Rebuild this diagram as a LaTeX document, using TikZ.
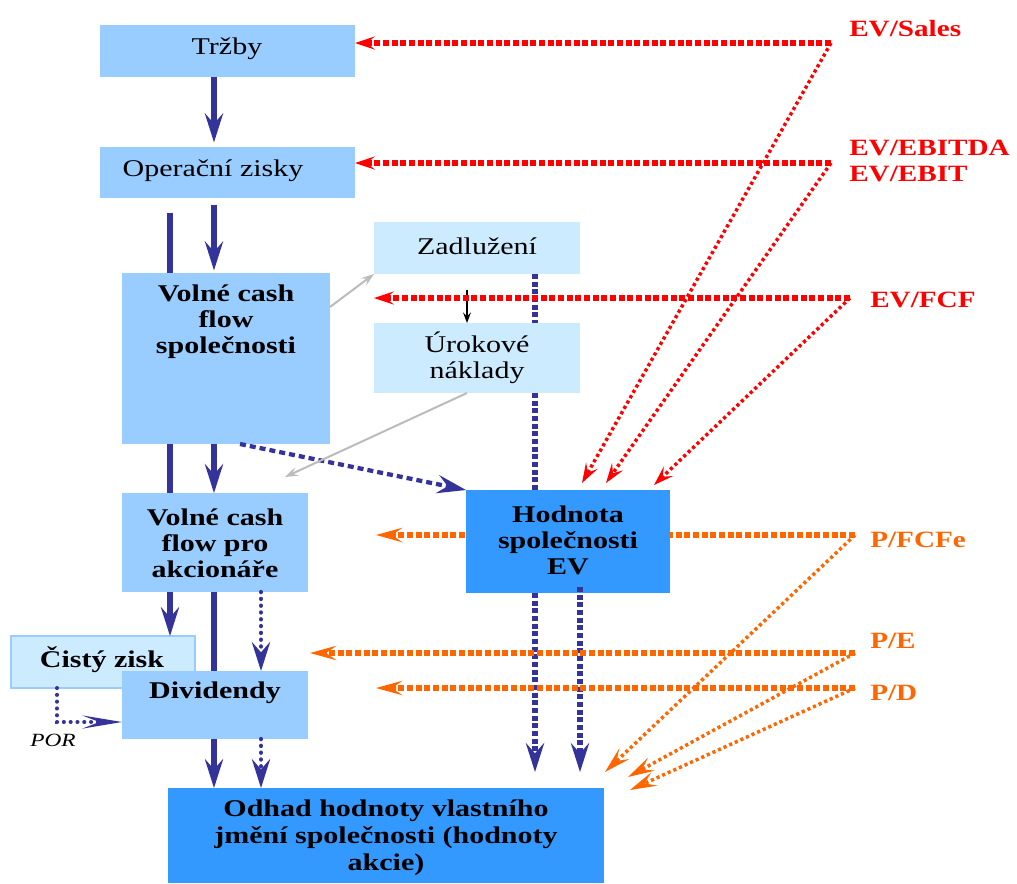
\documentclass[tikz,border=0pt]{standalone}
\usepackage{fontspec}
\setmainfont{Liberation Serif}[FakeStretch=1.25]
\usetikzlibrary{arrows.meta}
\definecolor{boxA}{HTML}{99CCFF}
\definecolor{boxB}{HTML}{CCEBFF}
\definecolor{boxC}{HTML}{3399FF}
\definecolor{navy}{HTML}{333399}
\definecolor{evred}{HTML}{FF0000}
\definecolor{porange}{HTML}{FF6600}
\definecolor{lgray}{HTML}{BBBBBB}
\tikzset{
  navytip/.tip={Stealth[length=22pt,width=14pt,inset=8pt,line width=0pt]},
  redtip/.tip={Stealth[length=15pt,width=10pt,inset=6pt,line width=0pt]},
  ortip/.tip={Stealth[length=20pt,width=11pt,inset=8pt,line width=0pt]},
  portip/.tip={Stealth[length=30pt,width=10pt,inset=13pt,line width=0pt]},
  graytip/.tip={Stealth[length=10pt,width=7pt,inset=4pt,line width=0pt]},
  box/.style 2 args={rectangle, minimum width=#1*0.75pt, minimum height=#2*0.75pt,
    inner sep=0pt, outer sep=0pt, anchor=north west, draw=none},
  txt/.style={font=\fontsize{18}{19.5}\selectfont, align=center, inner sep=0pt, text=black},
  btxt/.style={txt, font=\fontsize{18}{19.5}\selectfont\bfseries},
  lab/.style={font=\fontsize{17.5}{19}\selectfont\bfseries, inner sep=0pt, anchor=base west},
  solidB/.style={draw=navy, line width=4.5pt},
  dashB/.style={draw=navy, line width=5pt, dash pattern=on 3.75pt off 2pt},
  dotB/.style={draw=navy, line width=3.2pt, line cap=round, dash pattern=on 0.1pt off 5pt},
  hdash/.style={line width=4pt, dash pattern=on 4.5pt off 2pt},
  ddot/.style={line width=2.6pt, dash pattern=on 2.4pt off 2.2pt},
}
\begin{document}
\begin{tikzpicture}[x=0.75pt,y=-0.75pt]
\useasboundingbox (0,0) rectangle (1017,883);
% guide coordinates
\coordinate (xA) at (170,0);
\coordinate (xB) at (214,0);
\coordinate (xC) at (261,0);
\coordinate (xD) at (535,0);
\coordinate (xE) at (580,0);
% label anchor points
\coordinate (rs) at (831,43);
\coordinate (re) at (831,163);
\coordinate (rf) at (850,298);
\coordinate (of) at (855,535);
\coordinate (oe) at (855,653);
\coordinate (od) at (855,688);
\coordinate (h1) at (582,483);
\coordinate (h2) at (606,483);
\coordinate (h3) at (654,485);
\coordinate (o1) at (605,772);
\coordinate (o2) at (628,777);
\coordinate (o3) at (630,790);
\coordinate (peEnd) at (310,653);
\coordinate (pfEnd) at (376,535);
\coordinate (pdEnd) at (376,688);
\coordinate (g2) at (285,477);
\coordinate (bk) at (467,290);
\coordinate (por) at (57,722);

% orange P/FCFe line runs behind the EV box
\draw[porange, hdash, -{ortip}] (of) -- (pfEnd);

% boxes
\node[box={255}{52}, fill=boxA] (trzby) at (100,25) {};
\node[box={255}{51}, fill=boxA] (oper) at (100,147) {};
\node[box={206}{52}, fill=boxB] (zadl) at (374,222) {};
\node[box={208}{171}, fill=boxA] (vcf) at (122,273) {};
\node[box={206}{70}, fill=boxB] (urok) at (374,323) {};
\node[box={186}{99}, fill=boxA] (vcfa) at (122,493) {};
\node[box={204}{103}, fill=boxC] (hodn) at (466,490) {};
\node[box={184}{52}, fill=boxB, draw=boxA, line width=1pt] (cisty) at (11,636) {};
\node[box={186}{68}, fill=boxA] (divid) at (122,671) {};
\node[box={436}{95}, fill=boxC] (odhad) at (168,788) {};

% box texts
\node[txt] (t1) at (227,49) {Tržby};
\node[txt] (t2) at (213,171) {Operační zisky};
\node[txt] (t3) at (477,246) {Zadlužení};
\node[btxt] (t4) at (226,322) {Volné cash\\flow\\společnosti};
\node[txt] (t5) at (477,358) {Úrokové\\náklady};
\node[btxt] (t6) at (215,543) {Volné cash\\flow pro\\akcionáře};
\node[btxt] (t7) at (568,540) {Hodnota\\společnosti\\EV};
\node[btxt] (t8) at (102,660) {Čistý zisk};
\node[btxt] (t9) at (215,693) {Dividendy};
\node[btxt, font=\fontsize{18}{20.25}\selectfont\bfseries] (t10) at (386,838)
  {Odhad hodnoty vlastního\\jmění společnosti (hodnoty\\akcie)};

% solid navy flows
\draw[solidB, -{navytip}, shorten >=3.5pt] (trzby.south -| xB) -- (oper.north -| xB);
\draw[solidB, -{navytip}, shorten <=5pt, shorten >=2pt] (oper.south -| xB) -- (vcf.north -| xB);
\draw[solidB, shorten <=11pt] (oper.south -| xA) -- (vcf.north -| xA);
\draw[solidB] (vcf.south -| xA) -- (vcfa.north -| xA);
\draw[solidB, -{navytip}] (vcf.south -| xB) -- (vcfa.north -| xB);
\draw[solidB, -{navytip}] (vcfa.south -| xA) -- (cisty.north -| xA);
\draw[solidB] (vcfa.south -| xB) -- (divid.north -| xB);
\draw[solidB, -{navytip}] (divid.south -| xB) -- (odhad.north -| xB);

% dotted navy flows
\draw[dotB, -{navytip}] (vcfa.south -| xC) -- (divid.north -| xC);
\draw[dotB, -{navytip}] (divid.south -| xC) -- (odhad.north -| xC);
\draw[navy, line width=3pt, line cap=round, dash pattern=on 0.1pt off 5pt, -{portip}]
  (cisty.south -| por) -- (por) -- (por -| divid.west);
\node[font=\fontsize{14}{16}\selectfont\itshape, inner sep=0pt] (porl) at (53,740) {POR};

% dashed navy flows
\draw[navy, line width=3.2pt, dash pattern=on 4.5pt off 3pt, -{navytip}]
  ([xshift=10.5pt]vcf.south) -- (hodn.north west);
\draw[dashB] (zadl.south -| xD) -- (urok.north -| xD);
\draw[dashB] (urok.south -| xD) -- (hodn.north -| xD);
\draw[dashB, -{navytip}, shorten >=12pt] (hodn.south -| xD) -- (odhad.north -| xD);
\draw[dashB, -{navytip}, shorten <=-4.5pt, shorten >=12pt] (hodn.south -| xE) -- (odhad.north -| xE);

% gray and black thin arrows
\draw[lgray, line width=1.5pt, -{graytip}] ([yshift=38.6pt]vcf.east) -- (zadl.south west);
\draw[lgray, line width=1.5pt, -{graytip}] ([xshift=-7.5pt]urok.south) -- (g2);
\draw[black, line width=1.2pt, -{Stealth[length=8pt,width=6pt,inset=3pt]}] (bk) -- (bk |- urok.north);

% red EV multiples
\draw[evred, hdash, -{redtip}] (rs) -- (trzby.east |- rs);
\draw[evred, hdash, -{redtip}] (re) -- (oper.east |- re);
\draw[evred, hdash, -{redtip}] (rf) -- (zadl.west |- rf);
\draw[evred, ddot, -{redtip}] (rs) -- (h1);
\draw[evred, ddot, -{redtip}] (re) -- (h2);
\draw[evred, ddot, -{redtip}] (rf) -- (h3);

% orange equity multiples
\draw[porange, hdash, -{ortip}] (oe) -- (peEnd);
\draw[porange, hdash, -{ortip}] (od) -- (pdEnd);
\draw[porange, ddot, -{ortip}] (of) -- (o1);
\draw[porange, ddot, -{ortip}] (oe) -- (o2);
\draw[porange, ddot, -{ortip}] (od) -- (o3);

% labels
\node[lab, text=evred] (lsales) at (849,36) {EV/Sales};
\node[lab, text=evred] (lebitda) at (849,155) {EV/EBITDA};
\node[lab, text=evred] (lebit) at (849,181) {EV/EBIT};
\node[lab, text=evred] (lfcf) at (870,307) {EV/FCF};
\node[lab, text=porange] (lpfcfe) at (870,547) {P/FCFe};
\node[lab, text=porange] (lpe) at (870,648) {P/E};
\node[lab, text=porange] (lpd) at (870,700) {P/D};
\end{tikzpicture}
\end{document}
